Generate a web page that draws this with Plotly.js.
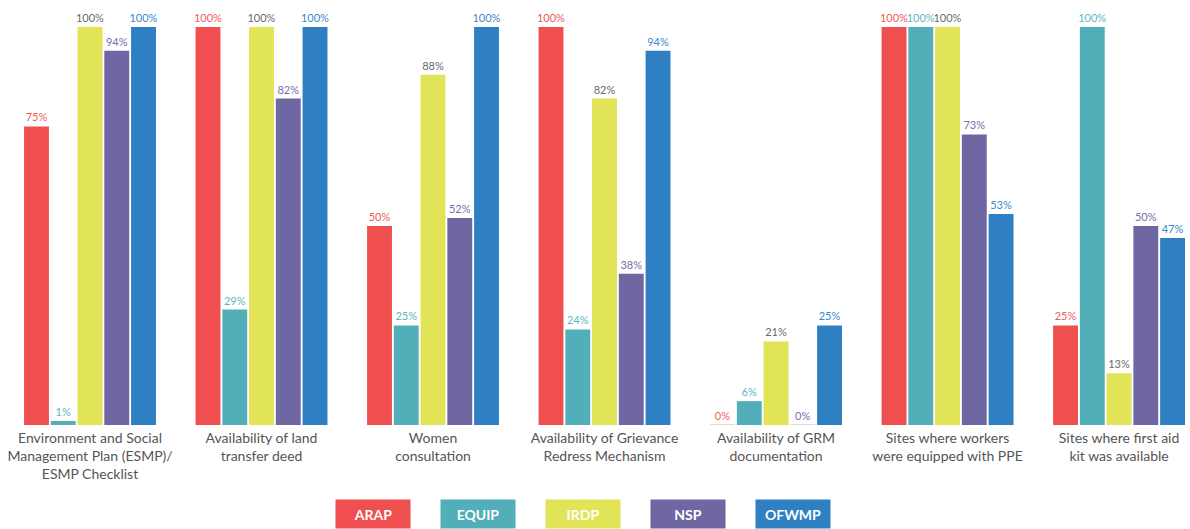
<!DOCTYPE html>
<html><head><meta charset="utf-8">
<script src="https://cdn.plot.ly/plotly-3.0.1.min.js"></script>
<style>html,body{margin:0;padding:0;background:#fff;}#chart{width:1190px;height:529px;}</style>
</head><body><div id="chart"></div>
<script>
const categories = [
  "Environment and Social<br>Management Plan (ESMP)/<br>ESMP Checklist",
  "Availability of land<br>transfer deed",
  "Women<br>consultation",
  "Availability of Grievance<br>Redress Mechanism",
  "Availability of GRM<br>documentation",
  "Sites where workers<br>were equipped with PPE",
  "Sites where first aid<br>kit was available"
];
const seriesNames = ["ARAP", "EQUIP", "IRDP", "NSP", "OFWMP"];
const ARAP  = [75, 100, 50, 100, 0, 100, 25];
const EQUIP = [1, 29, 25, 24, 6, 100, 100];
const IRDP  = [100, 100, 88, 82, 21, 100, 13];
const NSP   = [94, 82, 52, 38, 0, 73, 50];
const OFWMP = [100, 100, 100, 94, 25, 53, 47];
const values = [ARAP, EQUIP, IRDP, NSP, OFWMP];
const barColors = ["#EF4F4F", "#52AFB9", "#E2E458", "#6F67A3", "#2E80C3"];
const labelColors = ["#EF5B5B", "#5BB8C2", "#6A6A6A", "#776EAB", "#3B89CE"];
const faintColors = ["#F7C4C4", "#BFE2E6", "#F2F3B8", "#CFCBE3", "#B5D2EC"];

const font = "Lato, 'Open Sans', sans-serif";
const L = 13, W = 1190, R = 2;
const plotW = W - L - R;

const traces = seriesNames.map((name, i) => ({
  type: "bar",
  name: name,
  x: categories,
  y: values[i],
  marker: {
    color: barColors[i],
    line: {color: faintColors[i], width: values[i].map(v => v === 0 ? 1.5 : 0)}
  },
  texttemplate: "%{y}%",
  textposition: "outside",
  constraintext: "none",
  textfont: {color: labelColors[i], size: 11, family: font},
  cliponaxis: false,
  hoverinfo: "skip"
}));

const legendCenters = [373, 478, 583, 688, 793];
const annotations = seriesNames.map((name, i) => ({
  xref: "paper", yref: "paper",
  x: (legendCenters[i] - L) / plotW,
  y: (425 - 514) / 420,
  xanchor: "center", yanchor: "middle",
  text: "<b>" + name + "</b>",
  showarrow: false,
  bgcolor: barColors[i],
  width: 74, height: 28,
  borderpad: 0,
  font: {color: "#ffffff", size: 14, family: font}
}));

const layout = {
  width: 1190, height: 529,
  margin: {l: L, r: R, t: 5, b: 104},
  paper_bgcolor: "#ffffff", plot_bgcolor: "#ffffff",
  barmode: "group",
  bargap: 0.22,
  bargroupgap: 0.07,
  showlegend: false,
  xaxis: {
    type: "category",
    range: [-0.449, 6.402],
    showgrid: false, zeroline: false, showline: false,
    ticks: "", ticklabelstandoff: 3,
    tickfont: {size: 14, color: "#555555", family: font},
    fixedrange: true
  },
  yaxis: {
    range: [0, 105.5],
    visible: false,
    fixedrange: true
  },
  annotations: annotations,
  font: {family: font}
};

Plotly.newPlot("chart", traces, layout, {displayModeBar: false, staticPlot: true});
</script>
</body></html>
